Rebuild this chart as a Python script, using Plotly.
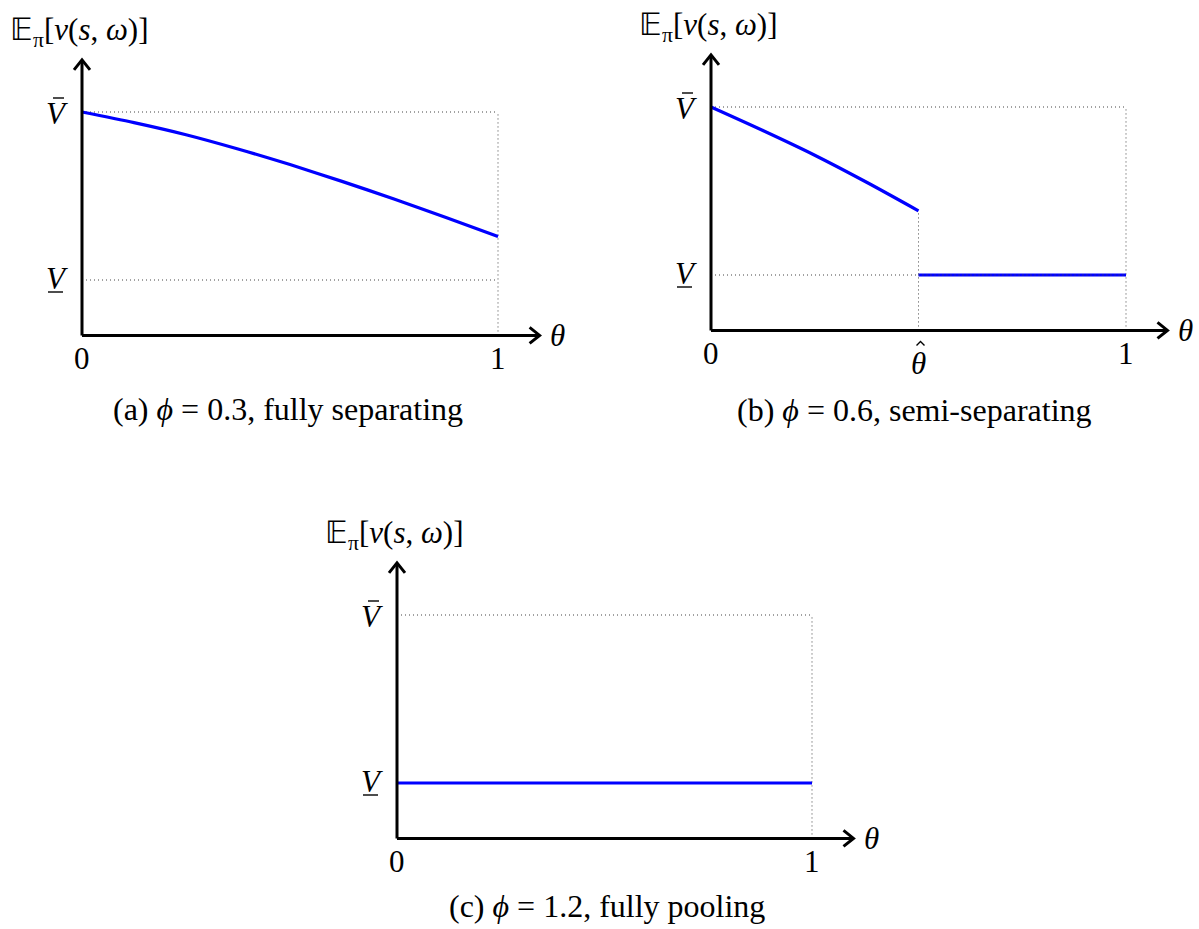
import plotly.graph_objects as go

W, H = 1199, 929

# ---- data (normalised: V_lower = 0, V_bar = 1, theta in [0, 1]) ----
theta_a = [0, 0.125, 0.25, 0.375, 0.5, 0.625, 0.75, 0.875, 1.0]
value_a = [1.0, 0.937, 0.865, 0.780, 0.687, 0.587, 0.482, 0.372, 0.259]

theta_b_sep = [0, 0.125, 0.25, 0.375, 0.5]
value_b_sep = [1.0, 0.860, 0.713, 0.552, 0.382]
theta_b_pool = [0.5, 1.0]
value_b_pool = [0.0, 0.0]

theta_c = [0, 1.0]
value_c = [0.0, 0.0]

V_LOW, V_BAR = 0.0, 1.0
THETA_HAT = 0.5
captions = ["(a) <i>ϕ</i> = 0.3, fully separating",
            "(b) <i>ϕ</i> = 0.6, semi-separating",
            "(c) <i>ϕ</i> = 1.2, fully pooling"]
ylabel = "𝔼<sub>π</sub>[<i>v</i>(<i>s</i>, <i>ω</i>)]"
v_txt = "<i>V</i>"

AX_Y = -0.33      # position of theta axis
X_TIP = 1.10      # end of theta axis arrow
Y_TIP = 1.31      # end of value axis arrow

FONT = "Liberation Serif"
BLUE = "#0000ff"
LBL = 31
CAP = 32
TTL = 31

# panel geometry: origin pixel (theta=0, V_low), scale px/unit, window
panels = [
    dict(ox=82, oy=280, sx=416, sy=168, L=0, R=596, T=0, B=462, capx=0.495, capshift=-74),
    dict(ox=711, oy=275, sx=415, sy=168, L=600, R=1199, T=0, B=462, capx=0.49, capshift=-80),
    dict(ox=397, oy=783, sx=415, sy=168, L=300, R=900, T=470, B=929, capx=0.505, capshift=-68),
]

fig = go.Figure()
annotations = []

for i, p in enumerate(panels):
    n = "" if i == 0 else str(i + 1)
    xa, ya = "x" + n, "y" + n
    fig.layout["xaxis" + n] = dict(
        domain=[p["L"] / W, p["R"] / W],
        range=[(p["L"] - p["ox"]) / p["sx"], (p["R"] - p["ox"]) / p["sx"]],
        visible=False, anchor=ya, fixedrange=True)
    fig.layout["yaxis" + n] = dict(
        domain=[1 - p["B"] / H, 1 - p["T"] / H],
        range=[(p["oy"] - p["B"]) / p["sy"], (p["oy"] - p["T"]) / p["sy"]],
        visible=False, anchor=xa, fixedrange=True)

    dot = dict(color="#444", width=1, dash="1px,3px")
    hx, hy = 1 / p["sx"], 1 / p["sy"]   # one pixel in data units

    def add(x, y, line):
        fig.add_trace(go.Scatter(x=x, y=y, mode="lines", line=line,
                                 xaxis=xa, yaxis=ya, showlegend=False, hoverinfo="skip"))

    # dotted guides
    if i == 1:
        add([0, 1], [V_BAR, V_BAR], dot)
        add([0, THETA_HAT], [V_LOW, V_LOW], dot)
        add([THETA_HAT, THETA_HAT], [AX_Y, value_b_sep[-1]], dot)
        add([1, 1], [AX_Y, V_BAR], dot)
    else:
        add([0, 1], [V_BAR, V_BAR], dot)
        add([0, 1], [V_LOW, V_LOW], dot)
        add([1, 1], [AX_Y, V_BAR], dot)

    # data curves
    blue = dict(color=BLUE, width=3.2)
    blue_s = dict(color=BLUE, width=3.2, shape="spline", smoothing=0.8)
    if i == 0:
        add(theta_a, value_a, blue_s)
    elif i == 1:
        add(theta_b_sep, value_b_sep, blue_s)
        add(theta_b_pool, value_b_pool, blue)
        add([THETA_HAT, 1], [V_LOW, V_LOW], dot)
    else:
        add(theta_c, value_c, blue)

    # axes with arrow heads
    ax_line = dict(color="black", width=3)
    add([0, X_TIP], [AX_Y, AX_Y], ax_line)
    add([0, 0], [AX_Y, Y_TIP], ax_line)
    add([X_TIP - 10 * hx, X_TIP, X_TIP - 10 * hx], [AX_Y + 8 * hy, AX_Y, AX_Y - 8 * hy], ax_line)
    add([-8 * hx, 0, 8 * hx], [Y_TIP - 10 * hy, Y_TIP, Y_TIP - 10 * hy], ax_line)

    def ann(x, y, text, xs=0, ys=0, size=LBL):
        annotations.append(dict(x=x, y=y, xref=xa, yref=ya, text=text, showarrow=False,
                                xshift=xs, yshift=ys,
                                font=dict(family=FONT, size=size, color="black")))

    accent = dict(color="black", width=1.4)
    ann(0, AX_Y, "0", ys=-23)
    ann(1, AX_Y, "1", ys=-23)
    if i == 1:
        ann(THETA_HAT, AX_Y, "<i>θ</i>", ys=-33)
        # hat accent over theta
        add([THETA_HAT - 2 * hx, THETA_HAT + 2 * hx, THETA_HAT + 6 * hx],
            [AX_Y - 15 * hy, AX_Y - 11 * hy, AX_Y - 15 * hy], accent)
    # V-bar and V-underline labels (accent strokes drawn as marks)
    ann(0, V_BAR, v_txt, xs=-25, ys=-1)
    add([-29 * hx, -18 * hx], [V_BAR + 14 * hy, V_BAR + 14 * hy], accent)
    ann(0, V_LOW, v_txt, xs=-25, ys=2)
    add([-34 * hx, -19 * hx], [V_LOW - 12 * hy, V_LOW - 12 * hy], accent)
    ann(X_TIP, AX_Y, "<i>θ</i>", xs=18, ys=0)
    ann(0, Y_TIP, ylabel, xs=-3, ys=28, size=TTL)
    ann(p["capx"], AX_Y, captions[i], ys=p["capshift"], size=CAP)

fig.update_layout(
    width=W, height=H, autosize=False,
    margin=dict(l=0, r=0, t=0, b=0, pad=0),
    paper_bgcolor="white", plot_bgcolor="rgba(0,0,0,0)",
    annotations=annotations, showlegend=False,
)

fig.write_html("out.html", config={"displayModeBar": False},
               post_script="document.body.style.margin='0';")
